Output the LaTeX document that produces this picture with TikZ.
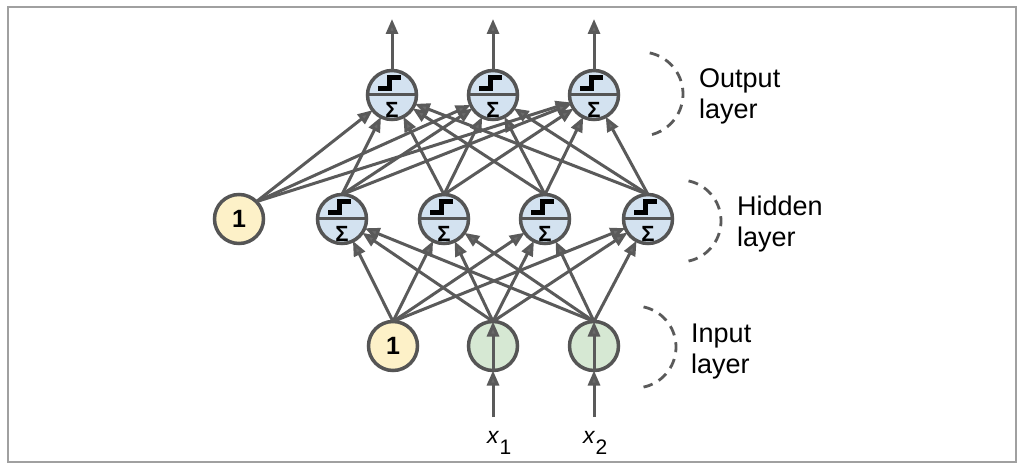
\documentclass[tikz,border=0pt]{standalone}
\usepackage{fontspec}
\setmainfont{Liberation Sans}
\usetikzlibrary{arrows.meta}
\definecolor{edgec}{HTML}{5A5A5A}
\definecolor{tipc}{HTML}{6A6A6A}
\definecolor{bordc}{HTML}{555555}
\definecolor{bluef}{HTML}{D3E2F0}
\definecolor{yellowf}{HTML}{FDF1C8}
\definecolor{greenf}{HTML}{D6E8D3}
\definecolor{framec}{HTML}{A0A0A0}
\begin{document}
\begin{tikzpicture}[x=1pt,y=-1pt,
 neuron/.style={circle, draw=bordc, line width=3.5pt, minimum size=49pt, inner sep=0pt, outer sep=0pt},
 actn/.style={neuron, fill=bluef},
 divider/.style={draw=bordc, line width=3pt},
 stepline/.style={draw=black, line width=5pt, line join=miter},
 sigma/.style={font=\fontsize{22}{22}\selectfont\bfseries, inner sep=0pt, text=black},
 biasn/.style={neuron, fill=yellowf, font=\fontsize{25}{25}\selectfont\bfseries},
 inputn/.style={neuron, fill=greenf},
 conn/.style={draw=edgec, line width=3pt, -{Triangle[length=15pt,width=12pt,fill=tipc]}},
 layerlab/.style={font=\fontsize{27}{31}\selectfont, align=left, anchor=base west, inner sep=0pt},
 brace/.style={draw=edgec, line width=2.8pt, dash pattern=on 10pt off 7pt}
]
\useasboundingbox (0,0) rectangle (1024,470);
\draw[framec, line width=2pt] (8,7) rectangle (1016,462);

% output layer
\node[actn] (o1) at (392,95) {};
\node[actn] (o2) at (493,95) {};
\node[actn] (o3) at (594,95) {};
% hidden layer
\node[biasn] (b2) at (239,219) {1};
\node[actn] (h1) at (342,219) {};
\node[actn] (h2) at (444,219) {};
\node[actn] (h3) at (545,219) {};
\node[actn] (h4) at (648,219) {};
% input layer
\node[biasn] (b1) at (393,346) {1};
\node[inputn] (i1) at (493,346) {};
\node[inputn] (i2) at (594,346) {};

% inside of the activation units: step function over the sum
\foreach \n in {o1,o2,o3,h1,h2,h3,h4}{
  \draw[divider] (\n.west) -- (\n.east);
  \draw[stepline] ([shift={(-14,-6)}]\n.center) -- ++(11,0) -- ++(0,-11) -- ++(12,0);
  \node[sigma] (s\n) at ([yshift=-14.5pt]\n.center) {Σ};
}

% connections hidden -> output
\foreach \o in {o1,o2,o3}{
  \draw[conn] (b2.north east) -- (\o);
  \foreach \h in {h1,h2,h3,h4}{
    \draw[conn] (\h.north) -- (\o);
  }
}
% connections input -> hidden
\foreach \h in {h1,h2,h3,h4}{
  \foreach \i in {b1,i1,i2}{
    \draw[conn] (\i.north) -- (\h);
  }
}
% outputs
\coordinate (y1) at (392,19);
\coordinate (y2) at (493,19);
\coordinate (y3) at (594,19);
\draw[conn] (o1.north) -- (y1);
\draw[conn] (o2.north) -- (y2);
\draw[conn] (o3.north) -- (y3);
% inputs
\coordinate (xa1) at (493,417);
\coordinate (xa2) at (594,417);
\draw[conn] (xa1) -- (i1.south);
\draw[conn] (i1.south) -- (i1.north);
\draw[conn] (xa2) -- (i2.south);
\draw[conn] (i2.south) -- (i2.north);
\node[anchor=base west, inner sep=0pt, font=\fontsize{23}{23}\selectfont] (xl1) at (487,443) {\itshape x\kern1pt\raisebox{-11pt}{\upshape\fontsize{21}{21}\selectfont 1}};
\node[anchor=base west, inner sep=0pt, font=\fontsize{23}{23}\selectfont] (xl2) at (583,443) {\itshape x\kern1pt\raisebox{-11pt}{\upshape\fontsize{21}{21}\selectfont 2}};

% layer braces
\draw[brace] plot[domain=-78:78, samples=40] ({641+42*cos(\x)},{94+42*sin(\x)});
\draw[brace] plot[domain=-78:78, samples=40] ({680+41*cos(\x)},{221+41*sin(\x)});
\draw[brace] plot[domain=-78:78, samples=40] ({635+41*cos(\x)},{347+41*sin(\x)});

% layer labels (anchor at baseline of the last line)
\node[layerlab] (lo) at (699,119) {Output\\layer};
\node[layerlab] (lh) at (737,247) {Hidden\\layer};
\node[layerlab] (li) at (691,373) {Input\\layer};
\end{tikzpicture}
\end{document}
